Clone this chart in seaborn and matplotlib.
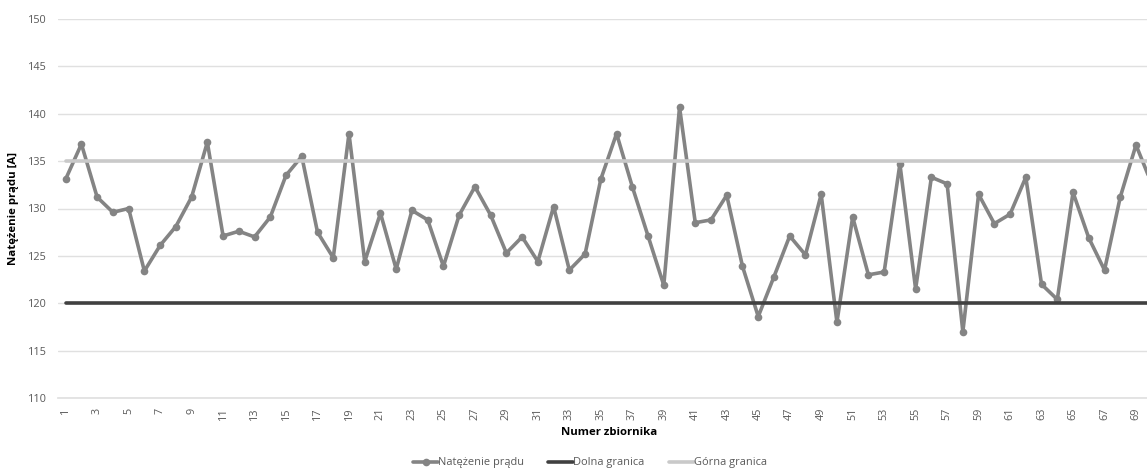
import matplotlib
matplotlib.use("Agg")
import matplotlib.pyplot as plt
import seaborn as sns
import pandas as pd

# Measured current for each tank
tank_numbers = list(range(1, 71))
current = [
    133.1, 136.8, 131.2, 129.6, 130.0, 123.4, 126.1, 128.1, 131.2, 137.0,
    127.1, 127.6, 127.0, 129.1, 133.5, 135.5, 127.5, 124.8, 137.9, 124.4,
    129.5, 123.6, 129.8, 128.8, 123.9, 129.3, 132.3, 129.3, 125.3, 127.0,
    124.4, 130.2, 123.5, 125.2, 133.1, 137.9, 132.3, 127.1, 121.9, 140.7,
    128.5, 128.8, 131.4, 123.9, 118.6, 122.8, 127.1, 125.1, 131.5, 118.0,
    129.1, 123.0, 123.3, 134.7, 121.5, 133.3, 132.6, 117.0, 131.5, 128.4,
    129.4, 133.3, 122.0, 120.4, 131.7, 126.9, 123.5, 131.2, 136.7, 132.6,
]
lower_limit = 120
upper_limit = 135

series_names = ["Natężenie prądu", "Dolna granica", "Górna granica"]
y_ticks = [110, 115, 120, 125, 130, 135, 140, 145, 150]

df = pd.DataFrame({
    "tank": tank_numbers,
    series_names[0]: current,
    series_names[1]: [lower_limit] * len(tank_numbers),
    series_names[2]: [upper_limit] * len(tank_numbers),
})

sns.set_theme(style="white")
plt.rcParams["font.family"] = ["Open Sans", "DejaVu Sans"]

fig = plt.figure(figsize=(11.47, 4.72), dpi=100)
ax = fig.add_axes([57.8 / 1147, 1 - 398 / 472, (1159.6 - 57.8) / 1147, (398 - 19) / 472])

sns.lineplot(data=df, x="tank", y=series_names[0], ax=ax, color="#848484",
             linewidth=2.6, marker="o", markersize=5.5, markeredgewidth=0,
             label=series_names[0], zorder=3)
sns.lineplot(data=df, x="tank", y=series_names[1], ax=ax, color="#404040",
             linewidth=2.6, label=series_names[1], zorder=4)
sns.lineplot(data=df, x="tank", y=series_names[2], ax=ax, color="#c9c9c9",
             linewidth=2.6, label=series_names[2], zorder=4)

ax.set_xlim(0.5, 70.5)
ax.set_ylim(110, 150)
ax.set_yticks(y_ticks)
ax.set_xticks(tank_numbers[::2])
ax.set_xticklabels([str(t) for t in tank_numbers[::2]], rotation=90)
ax.tick_params(axis="both", labelsize=7.8, colors="#595959", length=0)
ax.tick_params(axis="y", pad=8)
ax.tick_params(axis="x", pad=7)
ax.grid(axis="y", color="#e0e0e0", linewidth=1)
ax.set_axisbelow(True)
for side in ["top", "right", "left"]:
    ax.spines[side].set_visible(False)
ax.spines["bottom"].set_color("#e0e0e0")

ax.set_xlabel("Numer zbiornika", fontsize=8.2, fontweight="bold", color="#000000", labelpad=5)
ax.set_ylabel("Natężenie prądu [A]", fontsize=8.2, fontweight="bold", color="#000000", labelpad=6)

handles, labels = ax.get_legend_handles_labels()
ax.legend(handles, labels, loc="center", bbox_to_anchor=(590 / 1147, 1 - 463 / 472),
          bbox_transform=fig.transFigure, ncol=3, frameon=False, fontsize=7.9,
          handlelength=2.3, handletextpad=0.0, columnspacing=2.2,
          labelcolor="#595959")

fig.savefig("out.png", dpi=100)
